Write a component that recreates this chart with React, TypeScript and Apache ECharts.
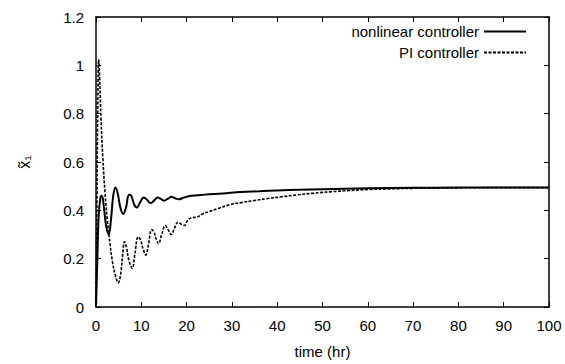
import React, { useEffect, useRef } from "react";
import * as echarts from "echarts";

const xTicks = [0, 10, 20, 30, 40, 50, 60, 70, 80, 90, 100];
const yTicks = [0, 0.2, 0.4, 0.6, 0.8, 1, 1.2];

const seriesNames = ["nonlinear controller", "PI controller"];

const timeNL = [
  0, 0.3, 0.6, 1.0, 1.3, 1.7, 2.2, 2.8, 3.3, 3.8, 4.3, 4.8, 5.4, 6.0, 6.6, 7.3, 7.8, 8.4, 9.0, 9.8,
  10.5, 11.2, 12.0, 12.8, 13.6, 14.3, 15.0, 15.8, 16.7, 17.5, 18.3, 19.3, 21, 24, 28, 32, 36, 40, 45,
  50, 55, 60, 70, 80, 90, 100,
];
const valueNL = [
  0, 0.2, 0.38, 0.455, 0.46, 0.42, 0.34, 0.3, 0.36, 0.46, 0.495, 0.47, 0.41, 0.385, 0.41, 0.465, 0.46,
  0.425, 0.412, 0.435, 0.453, 0.445, 0.43, 0.44, 0.453, 0.447, 0.44, 0.447, 0.456, 0.45, 0.446, 0.452,
  0.46, 0.465, 0.47, 0.476, 0.479, 0.482, 0.485, 0.487, 0.489, 0.491, 0.493, 0.494, 0.494, 0.494,
];

const timePI = [
  0, 0.15, 0.35, 0.6, 0.8, 1.1, 1.5, 2.0, 2.5, 3.1, 3.7, 4.3, 4.9, 5.4, 5.9, 6.3, 6.7, 7.3, 8.0, 8.6,
  9.3, 9.8, 10.4, 11.0, 11.6, 12.3, 12.8, 13.3, 13.8, 14.5, 15.3, 15.9, 16.6, 17.3, 18.1, 18.8, 19.5,
  20.3, 21.2, 22.3, 23.5, 25, 27, 29.5, 32, 35, 38, 41, 44.4, 48, 52, 56, 60, 65, 70, 80, 90, 100,
];
const valuePI = [
  0, 0.3, 0.75, 1.025, 0.95, 0.78, 0.62, 0.47, 0.36, 0.26, 0.18, 0.13, 0.1, 0.13, 0.22, 0.27, 0.25,
  0.19, 0.16, 0.22, 0.29, 0.28, 0.24, 0.215, 0.26, 0.32, 0.31, 0.28, 0.262, 0.3, 0.337, 0.32, 0.3,
  0.325, 0.351, 0.343, 0.337, 0.36, 0.37, 0.372, 0.385, 0.395, 0.408, 0.423, 0.432, 0.441, 0.449,
  0.456, 0.464, 0.471, 0.477, 0.482, 0.486, 0.489, 0.491, 0.493, 0.494, 0.494,
];

const FONT = "'Liberation Sans', Arial, Helvetica, sans-serif";

export default function App() {
  const ref = useRef<HTMLDivElement>(null);
  useEffect(() => {
    document.body.style.margin = "0";
    if (!ref.current) return;
    const chart = echarts.init(ref.current, undefined, { renderer: "svg" });
    const axisLine = { show: true, onZero: false, lineStyle: { color: "#000", width: 1.5 } };
    const tick = { show: true, inside: true, length: 5, lineStyle: { color: "#000", width: 1 } };
    chart.setOption({
      animation: false,
      backgroundColor: "#fff",
      textStyle: { fontFamily: FONT },
      grid: { left: 96, right: 16, top: 17, bottom: 53 },
      legend: {
        orient: "vertical",
        right: 38,
        top: 24,
        padding: 0,
        align: "right",
        itemWidth: 42,
        itemHeight: 14,
        itemGap: 6,
        itemStyle: { opacity: 0, borderWidth: 0 },
        textStyle: { fontSize: 15, color: "#000", fontFamily: FONT },
        data: seriesNames,
      },
      xAxis: [
        {
          type: "value",
          min: xTicks[0],
          max: xTicks[xTicks.length - 1],
          interval: 10,
          position: "bottom",
          axisLine,
          axisTick: tick,
          splitLine: { show: false },
          axisLabel: { fontSize: 15, color: "#000", margin: 11, fontFamily: FONT },
          name: "time (hr)",
          nameLocation: "middle",
          nameGap: 37,
          nameTextStyle: { fontSize: 15, color: "#000", fontFamily: FONT },
        },
        {
          type: "value",
          min: xTicks[0],
          max: xTicks[xTicks.length - 1],
          interval: 10,
          position: "top",
          axisLine,
          axisTick: tick,
          splitLine: { show: false },
          axisLabel: { show: false },
        },
      ],
      yAxis: [
        {
          type: "value",
          min: yTicks[0],
          max: yTicks[yTicks.length - 1],
          interval: 0.2,
          position: "left",
          axisLine,
          axisTick: tick,
          splitLine: { show: false },
          axisLabel: { fontSize: 15, color: "#000", margin: 12, fontFamily: FONT },
          name: "x\u0303\u2081",
          nameLocation: "middle",
          nameRotate: 90,
          nameGap: 64,
          nameTextStyle: { fontSize: 16, color: "#000", fontFamily: FONT },
        },
        {
          type: "value",
          min: yTicks[0],
          max: yTicks[yTicks.length - 1],
          interval: 0.2,
          position: "right",
          axisLine,
          axisTick: tick,
          splitLine: { show: false },
          axisLabel: { show: false },
        },
      ],
      series: [
        {
          name: seriesNames[0],
          type: "line",
          xAxisIndex: 0,
          yAxisIndex: 0,
          symbol: "none",
          smooth: 0.4,
          lineStyle: { color: "#000", width: 2, type: "solid" },
          itemStyle: { color: "#000" },
          data: timeNL.map((t, i) => [t, valueNL[i]]),
        },
        {
          name: seriesNames[1],
          type: "line",
          xAxisIndex: 0,
          yAxisIndex: 0,
          symbol: "none",
          smooth: 0.4,
          lineStyle: { color: "#000", width: 1.6, type: [3, 1.5] },
          itemStyle: { color: "#000" },
          data: timePI.map((t, i) => [t, valuePI[i]]),
        },
      ],
    });
    return () => chart.dispose();
  }, []);
  return <div ref={ref} style={{ width: 565, height: 364 }} />;
}
